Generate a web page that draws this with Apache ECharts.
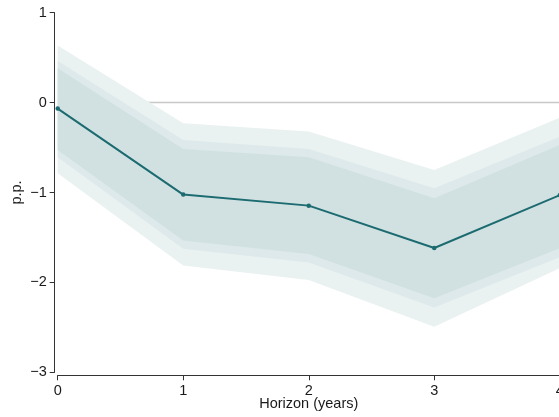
<!DOCTYPE html>
<html>
<head>
<meta charset="utf-8">
<script src="https://cdn.jsdelivr.net/npm/echarts@6/dist/echarts.min.js"></script>
<style>
  html, body { margin: 0; padding: 0; background: #fff; }
  #chart { width: 559px; height: 417px; }
</style>
</head>
<body>
<div id="chart"></div>
<script>
// Impulse response over the horizon, with three nested confidence bands
const horizons = ['0', '1', '2', '3', '4'];
const response = [-0.067, -1.023, -1.146, -1.617, -1.03];

const innerUpper = [0.383, -0.515, -0.608, -1.064, -0.47];
const innerLower = [-0.527, -1.535, -1.683, -2.176, -1.62];
const midUpper   = [0.464, -0.415, -0.515, -0.953, -0.378];
const midLower   = [-0.608, -1.627, -1.78, -2.28, -1.72];
const outerUpper = [0.634, -0.229, -0.322, -0.749, -0.167];
const outerLower = [-0.786, -1.813, -1.972, -2.492, -1.842];

const yTicks = [-3, -2, -1, 0, 1];

const FONT = 'Liberation Sans, Arial, Helvetica, sans-serif';
const FS = 14.5;
const TEXT = '#1a1a1a';
const LINE = '#1c6b70';

function band(name, lower, upper, color, z) {
  return [
    {
      name: name + '-base', type: 'line', stack: name, stackStrategy: 'all', data: lower,
      symbol: 'none', lineStyle: { opacity: 0 }, areaStyle: { opacity: 0 },
      silent: true, z: z
    },
    {
      name: name, type: 'line', stack: name, stackStrategy: 'all',
      data: upper.map((u, i) => +(u - lower[i]).toFixed(4)),
      symbol: 'none', lineStyle: { opacity: 0 },
      areaStyle: { color: color, opacity: 1 },
      silent: true, z: z
    }
  ];
}

const chart = echarts.init(document.getElementById('chart'), null, { renderer: 'canvas' });

chart.setOption({
  animation: false,
  backgroundColor: '#ffffff',
  grid: {
    left: 57.7, right: -0.8, top: 12.7, bottom: 44.7,
    containLabel: false, outerBoundsMode: 'none'
  },
  xAxis: {
    type: 'category',
    data: horizons,
    boundaryGap: false,
    offset: 3,
    name: 'Horizon (years)',
    nameLocation: 'middle',
    nameGap: 21,
    nameMoveOverlap: false,
    nameTextStyle: { fontFamily: FONT, fontSize: FS, color: TEXT },
    axisLine: { onZero: false, lineStyle: { color: '#333', width: 1 } },
    axisTick: { alignWithLabel: true, length: 5, lineStyle: { color: '#333' } },
    axisLabel: { fontFamily: FONT, fontSize: FS, color: TEXT, margin: 8 },
    splitLine: { show: false }
  },
  yAxis: {
    type: 'value',
    min: yTicks[0],
    max: yTicks[yTicks.length - 1],
    interval: 1,
    offset: 3,
    name: 'p.p.',
    nameLocation: 'middle',
    nameGap: 30,
    nameMoveOverlap: false,
    nameTextStyle: { fontFamily: FONT, fontSize: FS, color: TEXT },
    axisLine: { show: true, onZero: false, lineStyle: { color: '#333', width: 1 } },
    axisTick: { show: true, length: 5, lineStyle: { color: '#333' } },
    axisLabel: {
      fontFamily: FONT, fontSize: FS, color: TEXT, margin: 8,
      formatter: v => String(v).replace('-', '\u2212')
    },
    splitLine: { show: false }
  },
  series: [
    {
      name: 'zero', type: 'line', data: horizons.map(() => 0),
      symbol: 'none', lineStyle: { color: '#c8c8c8', width: 1.5 }, silent: true, z: 1
    },
    ...band('outer', outerLower, outerUpper, '#eaf1f1', 2),
    ...band('mid', midLower, midUpper, '#dde9ea', 3),
    ...band('inner', innerLower, innerUpper, '#d1e1e2', 4),
    {
      name: 'response', type: 'line', data: response,
      symbol: 'circle', symbolSize: 4.5,
      itemStyle: { color: LINE },
      lineStyle: { color: LINE, width: 2 },
      z: 10
    }
  ]
});
</script>
</body>
</html>
